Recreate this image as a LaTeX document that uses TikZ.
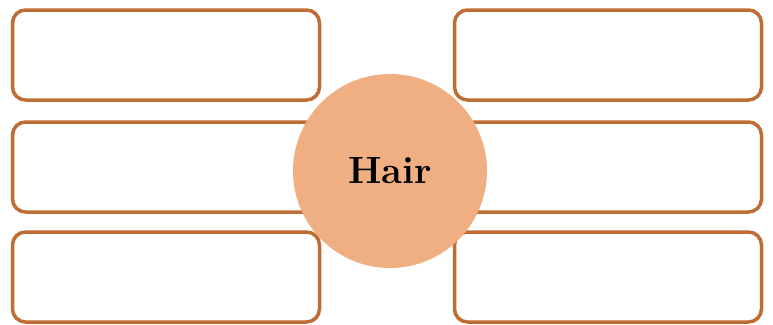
\documentclass[tikz,border=0pt]{standalone}
\begin{document}
\begin{tikzpicture}[x=1pt,y=-1pt,
  cell/.style={draw=boxline,line width=3.5pt,rounded corners=13pt,fill=white,minimum width=307pt,minimum height=90pt,inner sep=0pt},
  hub/.style={circle,fill=hubfill,minimum size=194pt,inner sep=0pt,font=\fontsize{38}{42}\selectfont\bfseries}]
\definecolor{boxline}{RGB}{190,110,52}
\definecolor{hubfill}{RGB}{240,175,130}
\useasboundingbox (0,0) rectangle (773,324);
\node[cell] (l1) at (166,55) {};
\node[cell] (l2) at (166,167) {};
\node[cell] (l3) at (166,277) {};
\node[cell] (r1) at (608,55) {};
\node[cell] (r2) at (608,167) {};
\node[cell] (r3) at (608,277) {};
\node[hub] (c) at (390,171) {Hair};
\end{tikzpicture}
\end{document}
